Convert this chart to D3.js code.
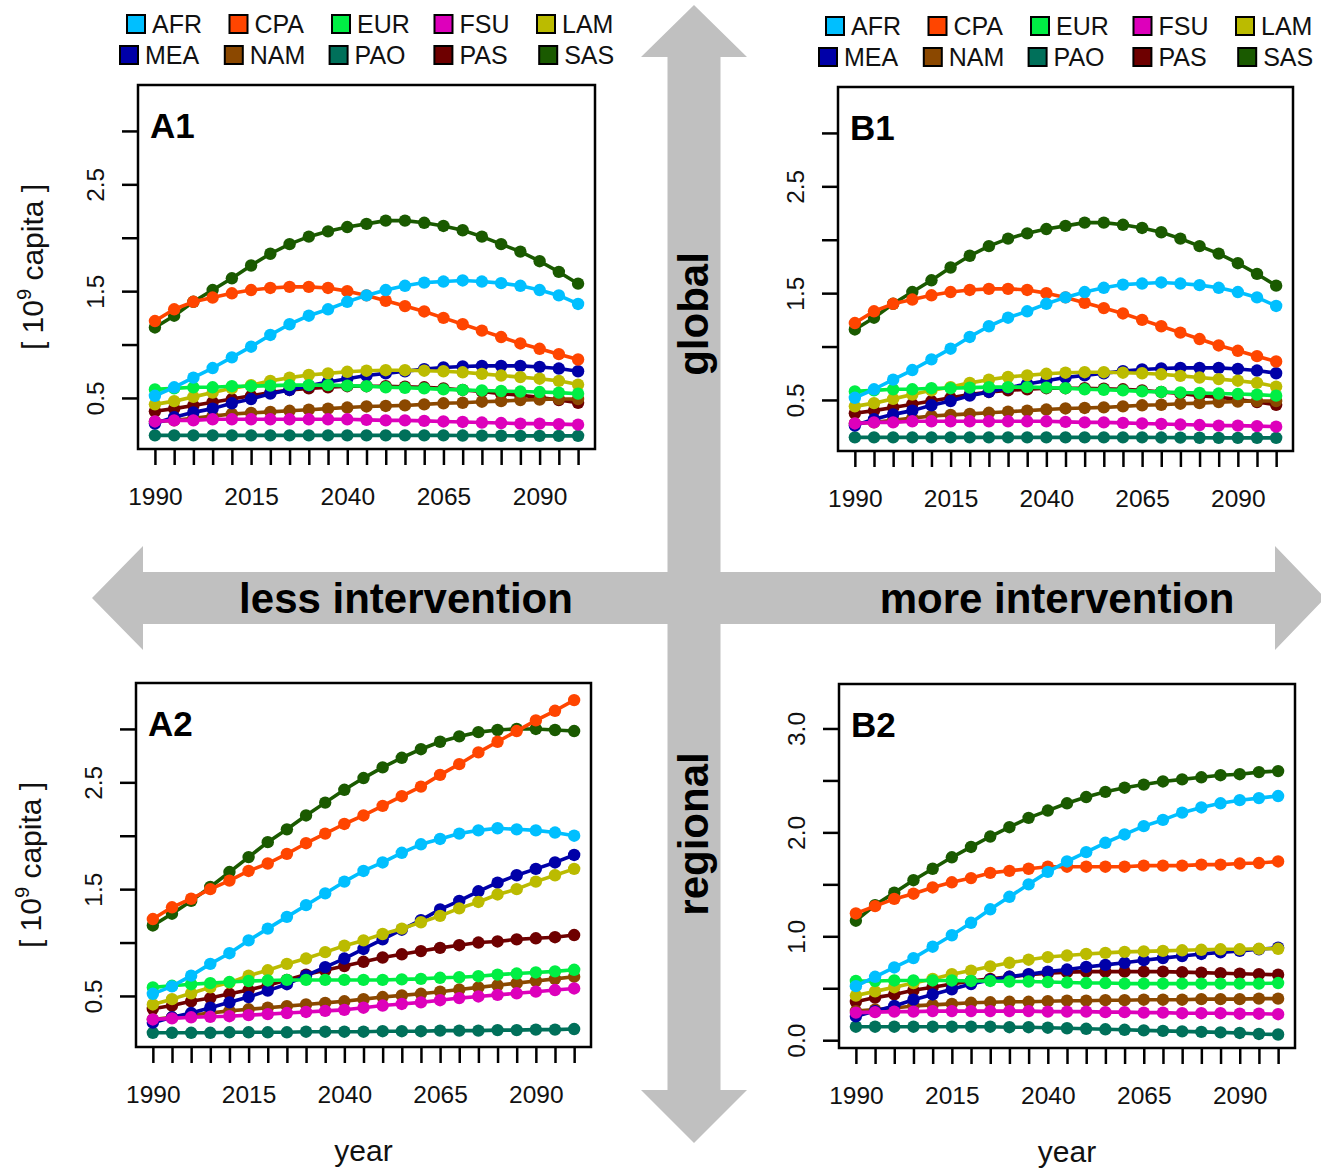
<!DOCTYPE html>
<html><head><meta charset="utf-8">
<script src="https://cdn.jsdelivr.net/npm/d3@7"></script>
<style>
body{margin:0;background:#fff}
svg{display:block}
text{font-family:Arial,"Liberation Sans",sans-serif}
</style>
</head><body>
<svg id="chart" width="1321" height="1168"></svg>
<script>
// ---------- data ----------
const years = [1990,1995,2000,2005,2010,2015,2020,2025,2030,2035,2040,2045,2050,2055,2060,2065,2070,2075,2080,2085,2090,2095,2100];
const regions = ["AFR","CPA","EUR","FSU","LAM","MEA","NAM","PAO","PAS","SAS"];
const regionColors = ["#00BFFF","#FF4500","#00EE44","#DD00BB","#BBBB00","#0000A8","#8B4800","#00705A","#6E0000","#1A5A00"];
const legendRow1 = ["AFR","CPA","EUR","FSU","LAM"];
const legendRow2 = ["MEA","NAM","PAO","PAS","SAS"];
const xTickLabels = [1990,2015,2040,2065,2090];
const yTicksStd = [0.5,1.0,1.5,2.0,2.5,3.0];
const yLabelsStd = [0.5,1.5,2.5];
const yTicksB2 = [0.0,0.5,1.0,1.5,2.0,2.5,3.0];
const yLabelsB2 = [0.0,1.0,2.0,3.0];

// A1 scenario (10^9 capita)
const A1_AFR = [0.52,0.60,0.69,0.78,0.88,0.98,1.09,1.19,1.27,1.33,1.40,1.46,1.51,1.55,1.58,1.59,1.60,1.59,1.575,1.55,1.51,1.46,1.38];
const A1_CPA = [1.22,1.33,1.40,1.44,1.48,1.51,1.53,1.54,1.54,1.53,1.50,1.46,1.41,1.36,1.31,1.25,1.19,1.13,1.07,1.01,0.96,0.91,0.86];
const A1_EUR = [0.58,0.59,0.60,0.60,0.61,0.61,0.615,0.62,0.62,0.62,0.615,0.61,0.60,0.595,0.59,0.58,0.575,0.57,0.565,0.56,0.555,0.55,0.54];
const A1_FSU = [0.28,0.29,0.29,0.30,0.30,0.30,0.30,0.30,0.30,0.30,0.30,0.295,0.29,0.29,0.285,0.28,0.275,0.27,0.265,0.26,0.26,0.255,0.25];
const A1_LAM = [0.44,0.47,0.51,0.55,0.59,0.62,0.66,0.69,0.715,0.73,0.745,0.755,0.76,0.76,0.755,0.75,0.74,0.725,0.71,0.695,0.68,0.66,0.625];
const A1_MEA = [0.26,0.32,0.365,0.40,0.45,0.49,0.54,0.575,0.615,0.65,0.68,0.71,0.73,0.75,0.77,0.785,0.795,0.80,0.80,0.80,0.79,0.775,0.75];
const A1_NAM = [0.28,0.29,0.31,0.33,0.35,0.36,0.37,0.38,0.39,0.40,0.41,0.42,0.425,0.43,0.44,0.45,0.455,0.465,0.47,0.48,0.485,0.49,0.49];
const A1_PAO = [0.15,0.15,0.15,0.15,0.15,0.15,0.15,0.15,0.15,0.15,0.15,0.15,0.15,0.15,0.15,0.15,0.148,0.147,0.146,0.145,0.145,0.145,0.145];
const A1_PAS = [0.375,0.40,0.43,0.46,0.49,0.52,0.55,0.575,0.59,0.60,0.61,0.61,0.61,0.605,0.60,0.59,0.575,0.56,0.54,0.525,0.505,0.48,0.455];
const A1_SAS = [1.16,1.27,1.40,1.51,1.62,1.74,1.85,1.94,2.01,2.06,2.10,2.13,2.16,2.16,2.14,2.11,2.07,2.01,1.94,1.87,1.78,1.68,1.57];

// B1 scenario (same population path as A1)
const B1_AFR = [0.52,0.60,0.69,0.78,0.88,0.98,1.09,1.19,1.27,1.33,1.40,1.46,1.51,1.55,1.58,1.59,1.60,1.59,1.575,1.55,1.51,1.46,1.38];
const B1_CPA = [1.22,1.33,1.40,1.44,1.48,1.51,1.53,1.54,1.54,1.53,1.50,1.46,1.41,1.36,1.31,1.25,1.19,1.13,1.07,1.01,0.96,0.91,0.86];
const B1_EUR = [0.58,0.59,0.60,0.60,0.61,0.61,0.615,0.62,0.62,0.62,0.615,0.61,0.60,0.595,0.59,0.58,0.575,0.57,0.565,0.56,0.555,0.55,0.54];
const B1_FSU = [0.28,0.29,0.29,0.30,0.30,0.30,0.30,0.30,0.30,0.30,0.30,0.295,0.29,0.29,0.285,0.28,0.275,0.27,0.265,0.26,0.26,0.255,0.25];
const B1_LAM = [0.44,0.47,0.51,0.55,0.59,0.62,0.66,0.69,0.715,0.73,0.745,0.755,0.76,0.76,0.755,0.75,0.74,0.725,0.71,0.695,0.68,0.66,0.625];
const B1_MEA = [0.26,0.32,0.365,0.40,0.45,0.49,0.54,0.575,0.615,0.65,0.68,0.71,0.73,0.75,0.77,0.785,0.795,0.80,0.80,0.80,0.79,0.775,0.75];
const B1_NAM = [0.28,0.29,0.31,0.33,0.35,0.36,0.37,0.38,0.39,0.40,0.41,0.42,0.425,0.43,0.44,0.45,0.455,0.465,0.47,0.48,0.485,0.49,0.49];
const B1_PAO = [0.15,0.15,0.15,0.15,0.15,0.15,0.15,0.15,0.15,0.15,0.15,0.15,0.15,0.15,0.15,0.15,0.148,0.147,0.146,0.145,0.145,0.145,0.145];
const B1_PAS = [0.375,0.40,0.43,0.46,0.49,0.52,0.55,0.575,0.59,0.60,0.61,0.61,0.61,0.605,0.60,0.59,0.575,0.56,0.54,0.525,0.505,0.48,0.455];
const B1_SAS = [1.16,1.27,1.40,1.51,1.62,1.74,1.85,1.94,2.01,2.06,2.10,2.13,2.16,2.16,2.14,2.11,2.07,2.01,1.94,1.87,1.78,1.68,1.57];

// A2 scenario
const A2_AFR = [0.52,0.59,0.69,0.80,0.90,1.02,1.13,1.24,1.35,1.46,1.57,1.67,1.75,1.84,1.92,1.97,2.02,2.05,2.07,2.06,2.05,2.03,2.00];
const A2_CPA = [1.22,1.33,1.41,1.50,1.58,1.67,1.74,1.83,1.93,2.02,2.11,2.19,2.28,2.37,2.46,2.57,2.67,2.78,2.88,2.98,3.08,3.17,3.27];
const A2_EUR = [0.58,0.595,0.61,0.62,0.63,0.64,0.645,0.65,0.65,0.65,0.65,0.65,0.65,0.655,0.66,0.67,0.675,0.685,0.70,0.71,0.72,0.73,0.745];
const A2_FSU = [0.28,0.29,0.30,0.305,0.31,0.32,0.33,0.34,0.35,0.36,0.37,0.39,0.41,0.425,0.44,0.46,0.48,0.495,0.51,0.525,0.54,0.555,0.57];
const A2_LAM = [0.42,0.47,0.525,0.58,0.625,0.69,0.74,0.80,0.85,0.91,0.97,1.02,1.08,1.13,1.19,1.25,1.32,1.38,1.45,1.50,1.57,1.63,1.69];
const A2_MEA = [0.25,0.30,0.34,0.39,0.44,0.49,0.55,0.61,0.69,0.77,0.85,0.94,1.03,1.12,1.21,1.31,1.39,1.48,1.56,1.63,1.69,1.75,1.82];
const A2_NAM = [0.28,0.30,0.32,0.34,0.36,0.375,0.39,0.405,0.42,0.435,0.45,0.47,0.49,0.505,0.52,0.54,0.56,0.58,0.60,0.62,0.64,0.66,0.68];
const A2_PAO = [0.155,0.155,0.155,0.155,0.16,0.16,0.16,0.16,0.165,0.165,0.165,0.165,0.17,0.17,0.17,0.175,0.175,0.175,0.18,0.18,0.185,0.185,0.19];
const A2_PAS = [0.38,0.41,0.45,0.48,0.52,0.555,0.60,0.65,0.70,0.74,0.78,0.82,0.86,0.89,0.92,0.95,0.975,1.0,1.01,1.03,1.04,1.05,1.07];
const A2_SAS = [1.16,1.27,1.39,1.52,1.66,1.80,1.94,2.06,2.19,2.31,2.43,2.54,2.64,2.73,2.81,2.88,2.93,2.97,2.99,3.0,3.0,2.99,2.98];

// B2 scenario
const B2_AFR = [0.52,0.61,0.70,0.79,0.90,1.01,1.13,1.26,1.38,1.50,1.62,1.72,1.81,1.90,1.98,2.06,2.12,2.19,2.24,2.28,2.31,2.33,2.35];
const B2_CPA = [1.22,1.29,1.36,1.41,1.47,1.52,1.56,1.61,1.63,1.65,1.67,1.67,1.67,1.67,1.67,1.68,1.68,1.68,1.69,1.69,1.70,1.705,1.72];
const B2_EUR = [0.57,0.57,0.575,0.575,0.575,0.575,0.57,0.57,0.565,0.565,0.56,0.555,0.55,0.55,0.545,0.545,0.545,0.545,0.545,0.545,0.545,0.545,0.55];
const B2_FSU = [0.265,0.27,0.275,0.275,0.28,0.28,0.28,0.28,0.28,0.28,0.275,0.275,0.275,0.27,0.27,0.265,0.265,0.26,0.26,0.26,0.255,0.255,0.25];
const B2_LAM = [0.43,0.47,0.51,0.55,0.59,0.635,0.67,0.71,0.745,0.775,0.80,0.815,0.83,0.84,0.85,0.855,0.86,0.865,0.87,0.875,0.875,0.88,0.88];
const B2_MEA = [0.23,0.28,0.33,0.39,0.44,0.49,0.54,0.58,0.61,0.635,0.66,0.68,0.705,0.725,0.745,0.77,0.79,0.81,0.83,0.845,0.86,0.875,0.89];
const B2_NAM = [0.28,0.295,0.31,0.33,0.34,0.35,0.36,0.365,0.37,0.37,0.375,0.38,0.38,0.385,0.385,0.39,0.39,0.39,0.395,0.395,0.395,0.40,0.40];
const B2_PAO = [0.13,0.13,0.13,0.13,0.13,0.13,0.13,0.13,0.125,0.125,0.12,0.115,0.11,0.105,0.10,0.095,0.09,0.085,0.08,0.075,0.07,0.06,0.055];
const B2_PAS = [0.37,0.41,0.44,0.48,0.51,0.54,0.57,0.59,0.61,0.63,0.645,0.655,0.66,0.66,0.66,0.66,0.66,0.655,0.65,0.645,0.64,0.635,0.63];
const B2_SAS = [1.15,1.30,1.42,1.54,1.65,1.76,1.86,1.96,2.05,2.14,2.21,2.28,2.34,2.39,2.43,2.46,2.49,2.51,2.53,2.55,2.56,2.58,2.59];

const seriesByPanel = {
  A1: [A1_AFR,A1_CPA,A1_EUR,A1_FSU,A1_LAM,A1_MEA,A1_NAM,A1_PAO,A1_PAS,A1_SAS],
  B1: [B1_AFR,B1_CPA,B1_EUR,B1_FSU,B1_LAM,B1_MEA,B1_NAM,B1_PAO,B1_PAS,B1_SAS],
  A2: [A2_AFR,A2_CPA,A2_EUR,A2_FSU,A2_LAM,A2_MEA,A2_NAM,A2_PAO,A2_PAS,A2_SAS],
  B2: [B2_AFR,B2_CPA,B2_EUR,B2_FSU,B2_LAM,B2_MEA,B2_NAM,B2_PAO,B2_PAS,B2_SAS]
};

// ---------- layout ----------
const svg = d3.select("#chart");
const GRAY = "#c0c0c0";
const FONT = 'Arial,"Liberation Sans",sans-serif';

// big arrows
const arrowPath = d3.path();
arrowPath.moveTo(694,5); arrowPath.lineTo(747,57); arrowPath.lineTo(720.5,57); arrowPath.lineTo(720.5,1090);
arrowPath.lineTo(747,1090); arrowPath.lineTo(694,1143); arrowPath.lineTo(641,1090); arrowPath.lineTo(667.5,1090);
arrowPath.lineTo(667.5,57); arrowPath.lineTo(641,57); arrowPath.closePath();
arrowPath.moveTo(92,598); arrowPath.lineTo(143,546); arrowPath.lineTo(143,572); arrowPath.lineTo(1275,572);
arrowPath.lineTo(1275,546); arrowPath.lineTo(1325,598); arrowPath.lineTo(1275,650); arrowPath.lineTo(1275,624);
arrowPath.lineTo(143,624); arrowPath.lineTo(143,650); arrowPath.closePath();
svg.append("path").attr("d", arrowPath.toString()).attr("fill", GRAY);

const bigSize = 42;
svg.append("text").attr("x",406).attr("y",613).attr("text-anchor","middle")
  .attr("font-size",bigSize).attr("font-weight","bold").text("less intervention");
svg.append("text").attr("x",1057).attr("y",613).attr("text-anchor","middle")
  .attr("font-size",bigSize).attr("font-weight","bold").text("more intervention");
svg.append("text").attr("transform","translate(708,314) rotate(-90)").attr("text-anchor","middle")
  .attr("font-size",bigSize).attr("font-weight","bold").text("global");
svg.append("text").attr("transform","translate(708,834) rotate(-90)").attr("text-anchor","middle")
  .attr("font-size",bigSize).attr("font-weight","bold").text("regional");

// legends
function drawLegend(ox, oy) {
  const rows = [{items: legendRow1, x0: 127, step: 102.5, cy: 24},
                {items: legendRow2, x0: 120, step: 104.8, cy: 55}];
  rows.forEach(r => {
    r.items.forEach((name, i) => {
      const col = regionColors[regions.indexOf(name)];
      const x = ox + r.x0 + i * r.step;
      svg.append("rect").attr("x", x).attr("y", oy + r.cy - 9).attr("width",18).attr("height",18)
        .attr("fill", col).attr("stroke","#000").attr("stroke-width",2);
      svg.append("text").attr("x", x + 25).attr("y", oy + r.cy + 9)
        .attr("font-size",25).attr("fill","#111").text(name);
    });
  });
}
drawLegend(0, 0);
drawLegend(699, 2);

const panels = [
  {name:"A1", box:[138,85,595,449], yDom:[0.022,3.43], yTicks:yTicksStd, yLabels:yLabelsStd, yTitle:true, xTitle:false},
  {name:"B1", box:[838,87,1293,451], yDom:[0.022,3.43], yTicks:yTicksStd, yLabels:yLabelsStd, yTitle:false, xTitle:false},
  {name:"A2", box:[136,683,591,1047], yDom:[0.022,3.43], yTicks:yTicksStd, yLabels:yLabelsStd, yTitle:true, xTitle:true},
  {name:"B2", box:[839,684,1295,1048], yDom:[-0.075,3.428], yTicks:yTicksB2, yLabels:yLabelsB2, yTitle:false, xTitle:true}
];

panels.forEach(p => {
  const [x0,y0,x1,y1] = p.box;
  const pad = (years[years.length-1]-years[0]) * 0.04;
  const x = d3.scaleLinear().domain([years[0]-pad, years[years.length-1]+pad]).range([x0,x1]);
  const y = d3.scaleLinear().domain(p.yDom).range([y1,y0]);
  const g = svg.append("g");

  // x axis
  const xAxis = d3.axisBottom(x).tickValues(years).tickSize(16).tickSizeOuter(0).tickPadding(23)
    .tickFormat(d => xTickLabels.includes(d) ? String(d) : "");
  const gx = g.append("g").attr("transform",`translate(0,${y1})`).call(xAxis);
  gx.select(".domain").remove();
  gx.selectAll(".tick line").attr("stroke","#000").attr("stroke-width",2.5);
  gx.selectAll(".tick text").attr("font-size",24.5).attr("fill","#111").attr("font-family",FONT);

  // y axis
  const yAxis = d3.axisLeft(y).tickValues(p.yTicks).tickSize(16).tickSizeOuter(0).tickFormat("");
  const gy = g.append("g").attr("transform",`translate(${x0},0)`).call(yAxis);
  gy.select(".domain").remove();
  gy.selectAll(".tick line").attr("stroke","#000").attr("stroke-width",2.5);
  gy.selectAll(".tick").filter(d => p.yLabels.includes(d))
    .append("text").attr("transform","translate(-34,0) rotate(-90)").attr("text-anchor","middle")
    .attr("fill","#111").attr("font-size",24.5).attr("font-family",FONT)
    .text(d => d.toFixed(1));

  // series (drawn last-to-first so AFR ends on top)
  const data = seriesByPanel[p.name];
  const line = d3.line().x((d,i) => x(years[i])).y(d => y(d));
  for (let k = regions.length - 1; k >= 0; k--) {
    const s = data[k];
    const sg = g.append("g");
    sg.append("path").datum(s).attr("d", line).attr("fill","none")
      .attr("stroke", regionColors[k]).attr("stroke-width",3.6).attr("stroke-linejoin","round");
    sg.selectAll("circle").data(s).join("circle")
      .attr("cx",(d,i) => x(years[i])).attr("cy", d => y(d)).attr("r",6.2)
      .attr("fill", regionColors[k]);
  }

  // box
  g.append("rect").attr("x",x0).attr("y",y0).attr("width",x1-x0).attr("height",y1-y0)
    .attr("fill","none").attr("stroke","#000").attr("stroke-width",2.5);

  // panel label
  g.append("text").attr("x",x0+12).attr("y",y0+53).attr("font-size",35).attr("font-weight","bold")
    .attr("fill","#000").text(p.name);

  if (p.yTitle) {
    const t = g.append("text").attr("transform",`translate(${x0-95},${(y0+y1)/2}) rotate(-90)`)
      .attr("text-anchor","middle").attr("font-size",30).attr("fill","#111");
    t.append("tspan").text("[ 10");
    t.append("tspan").attr("font-size",20).attr("dy",-12).text("9");
    t.append("tspan").attr("dy",12).text(" capita ]");
  }
  if (p.xTitle) {
    g.append("text").attr("x",(x0+x1)/2).attr("y",y1+114).attr("text-anchor","middle")
      .attr("font-size",30).attr("fill","#111").text("year");
  }
});
</script>
</body></html>
